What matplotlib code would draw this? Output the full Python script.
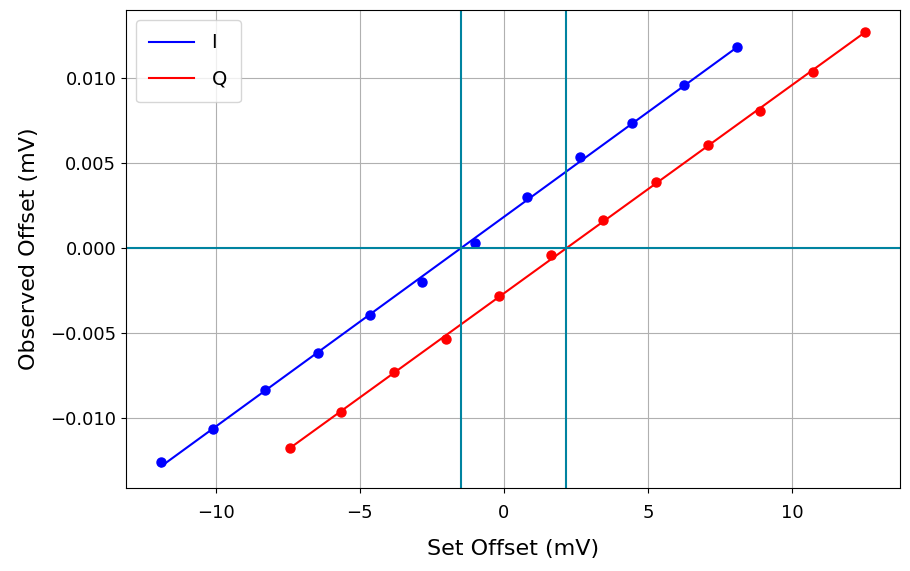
import numpy as np
import matplotlib
matplotlib.use('Agg')
import matplotlib.pyplot as plt

# set offsets (mV) and observed offsets (mV)
set_i = [-11.89, -10.08, -8.29, -6.44, -4.65, -2.83, -1.00, 0.81, 2.65, 4.45, 6.25, 8.08]
obs_i = [-0.01260, -0.01062, -0.00835, -0.00619, -0.00392, -0.00198,
         0.00033, 0.00301, 0.00534, 0.00734, 0.00961, 0.01182]

set_q = [-7.43, -5.65, -3.80, -2.00, -0.17, 1.64, 3.43, 5.28, 7.08, 8.89, 10.72, 12.52]
obs_q = [-0.01177, -0.00967, -0.00730, -0.00532, -0.00281, -0.00041,
         0.00163, 0.00389, 0.00610, 0.00810, 0.01035, 0.01274]

line_col = '#0083a0'

fig, ax = plt.subplots(figsize=(9.1, 5.71), dpi=100)
fig.subplots_adjust(left=0.1385, right=0.989, top=0.9825, bottom=0.1454)

zeros = []
for xs, ys, c, lab in [(set_i, obs_i, 'blue', 'I'), (set_q, obs_q, 'red', 'Q')]:
    xs = np.array(xs)
    ys = np.array(ys)
    p = np.polyfit(xs, ys, 1)
    xf = np.array([xs.min(), xs.max()])
    ax.plot(xf, np.polyval(p, xf), color=c, lw=1.5, label=lab)
    ax.plot(xs, ys, 'o', color=c, ms=6.5)
    zeros.append(-p[1] / p[0])

ax.axhline(0, color=line_col, lw=1.5)
for z in zeros:
    ax.axvline(z, color=line_col, lw=1.5)

ax.grid(True, color='#b0b0b0', lw=0.8)
ax.set_axisbelow(True)
ax.set_xticks([-10, -5, 0, 5, 10])
ax.set_yticks([-0.010, -0.005, 0.0, 0.005, 0.010])
ax.set_yticklabels(['\u22120.010', '\u22120.005', '0.000', '0.005', '0.010'])
ax.tick_params(labelsize=13)
ax.tick_params(axis='x', pad=8)
ax.set_xlabel('Set Offset (mV)', fontsize=16, labelpad=12)
ax.set_ylabel('Observed Offset (mV)', fontsize=16, labelpad=8)
ax.legend(loc='upper left', fontsize=14, handlelength=2.3, labelspacing=0.9,
          borderpad=0.7, handletextpad=0.9)

fig.savefig('out.png', dpi=100)
